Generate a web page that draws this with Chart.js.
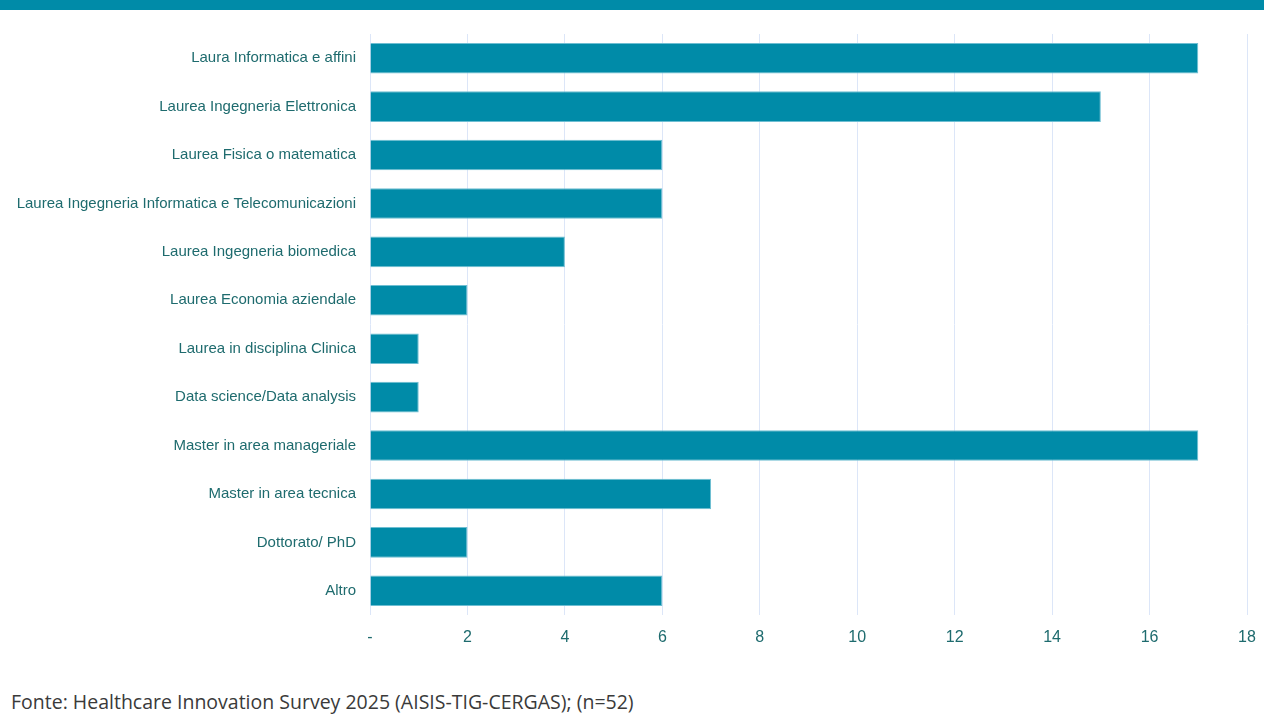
<!DOCTYPE html>
<html>
<head>
<meta charset="utf-8">
<script src="https://cdn.jsdelivr.net/npm/chart.js@4"></script>
<style>
    body { margin: 0; background: #fff; width: 1264px; height: 719px; overflow: hidden; position: relative; }
    #topBar { position: absolute; left: 0; top: 0; width: 1264px; height: 10px; background: #008ba8; }
    #wrap { position: absolute; left: 0; top: 0; width: 1264px; height: 660px; }
    #source { position: absolute; left: 11px; top: 688px; font-family: "Open Sans", sans-serif; font-size: 19.5px; color: #3a3a3a; }
</style>
</head>
<body>
<div id="topBar"></div>
<div id="wrap"><canvas id="qualChart"></canvas></div>
<div id="source">Fonte: Healthcare Innovation Survey 2025 (AISIS-TIG-CERGAS); (n=52)</div>
<script>
const categories = [
    "Laura Informatica e affini",
    "Laurea Ingegneria Elettronica",
    "Laurea Fisica o matematica",
    "Laurea Ingegneria Informatica e Telecomunicazioni",
    "Laurea Ingegneria biomedica",
    "Laurea Economia aziendale",
    "Laurea in disciplina Clinica",
    "Data science/Data analysis",
    "Master in area manageriale",
    "Master in area tecnica",
    "Dottorato/ PhD",
    "Altro"
];
const counts = [17, 15, 6, 6, 4, 2, 1, 1, 17, 7, 2, 6];

let qualChartCanvas = document.getElementById("qualChart").getContext("2d");
var qualChart = new Chart(qualChartCanvas, {
    type: "bar",
    data: {
        labels: categories,
        datasets: [{
            data: counts,
            backgroundColor: 'rgb(0,139,168)',
            borderColor: 'rgb(110,190,210)',
            borderWidth: 1,
            barPercentage: 0.63,
            categoryPercentage: 1
        }]
    },
    options: {
        indexAxis: 'y',
        responsive: true,
        maintainAspectRatio: false,
        animation: false,
        layout: {
            padding: { top: 34, right: 17, bottom: 0, left: 0 }
        },
        plugins: {
            legend: { display: false },
            tooltip: { enabled: false }
        },
        scales: {
            x: {
                min: 0,
                max: 18,
                ticks: {
                    stepSize: 2,
                    padding: 13,
                    color: '#1e6b6e',
                    font: { family: 'Liberation Sans', size: 16 },
                    callback: (v) => v === 0 ? '-' : v
                },
                grid: { color: '#dce6f8', drawTicks: false },
                border: { display: false },
                afterFit: (scale) => {
                    scale.height = 45;
                    scale.paddingRight = 0;
                    scale.paddingLeft = 0;
                }
            },
            y: {
                ticks: {
                    padding: 6,
                    color: '#1e6b6e',
                    font: { family: 'Liberation Sans', size: 15 }
                },
                grid: { display: false },
                border: { display: false },
                afterFit: (scale) => { scale.width = 370; }
            }
        }
    }
});
</script>
</body>
</html>
